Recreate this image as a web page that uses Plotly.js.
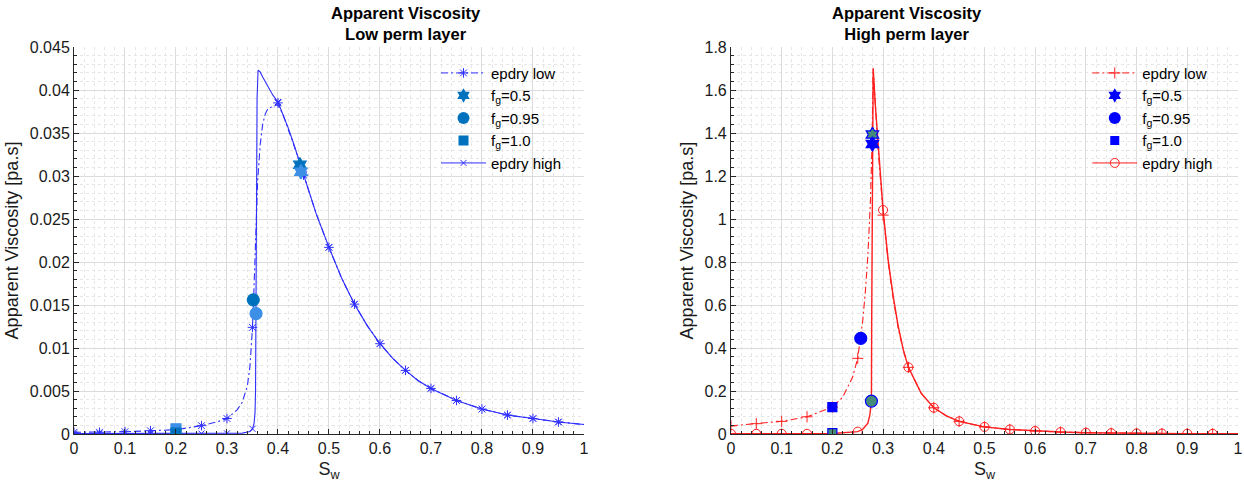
<!DOCTYPE html>
<html>
<head>
<meta charset="utf-8">
<script src="https://cdn.plot.ly/plotly-3.0.1.min.js"></script>
<style>
  html, body { margin: 0; padding: 0; background: #ffffff; }
  #chart { width: 1244px; height: 490px; }
</style>
</head>
<body>
<div id="chart"></div>
<script>
// Water saturations where the curve markers are placed
const swMarks = [0, 0.05, 0.1, 0.15, 0.2, 0.25, 0.3, 0.35, 0.4, 0.45,
                 0.5, 0.55, 0.6, 0.65, 0.7, 0.75, 0.8, 0.85, 0.9, 0.95];

// ---------- Low perm layer ----------
const lowLayerLowSw = [0, 0.05, 0.1, 0.15, 0.2, 0.25, 0.28, 0.3, 0.32, 0.33, 0.34, 0.345, 0.35, 0.353,
                       0.356, 0.36, 0.365, 0.37, 0.375, 0.38, 0.39, 0.4, 0.41, 0.42, 0.43, 0.44, 0.45,
                       0.475, 0.5, 0.525, 0.55, 0.575, 0.6, 0.625, 0.65, 0.675, 0.7, 0.75, 0.8, 0.85,
                       0.9, 0.95, 1];
const lowLayerLowMu = [0.0002, 0.0002, 0.00027, 0.00038, 0.0005, 0.00097, 0.0014, 0.0018, 0.0028, 0.0037,
                       0.0056, 0.0078, 0.0124, 0.0170, 0.0235, 0.0292, 0.0336, 0.0360, 0.0372, 0.0378,
                       0.0381, 0.0383, 0.0371, 0.0355, 0.0338, 0.0320, 0.0301, 0.0256, 0.0217, 0.0181,
                       0.0151, 0.0126, 0.0105, 0.0088, 0.0074, 0.0062, 0.0053, 0.0039, 0.0029, 0.0022,
                       0.0018, 0.0014, 0.0011];
const lowLayerHighSw = [0, 0.05, 0.1, 0.15, 0.2, 0.25, 0.3, 0.33, 0.345, 0.35, 0.353, 0.355, 0.356, 0.357,
                        0.358, 0.359, 0.361, 0.365, 0.37, 0.38, 0.39, 0.4, 0.41, 0.42, 0.43, 0.44, 0.45,
                        0.475, 0.5, 0.525, 0.55, 0.575, 0.6, 0.625, 0.65, 0.675, 0.7, 0.75, 0.8, 0.85,
                        0.9, 0.95, 1];
const lowLayerHighMu = [0.00005, 0.00005, 0.00005, 0.00005, 0.00005, 0.00005, 0.00008, 0.0001, 0.0003, 0.0006,
                        0.0012, 0.0025, 0.005, 0.015, 0.030, 0.039, 0.0423, 0.0421, 0.0415, 0.0404,
                        0.0394, 0.0386, 0.0372, 0.0356, 0.0339, 0.0321, 0.0302, 0.0256, 0.0217, 0.0181,
                        0.0151, 0.0126, 0.0105, 0.0088, 0.0074, 0.0062, 0.0053, 0.0039, 0.0029, 0.0022,
                        0.0018, 0.0014, 0.0011];
const lowLayerLowMarkMu = [0.0002, 0.0002, 0.00027, 0.00038, 0.0005, 0.00097, 0.0018, 0.0124, 0.0385, 0.0301,
                           0.0217, 0.0151, 0.0105, 0.0074, 0.0053, 0.0039, 0.0029, 0.0022, 0.0018, 0.0014];
const lowLayerHighMarkMu = [0.00005, 0.00005, 0.00005, 0.00005, 0.00005, 0.00005, 0.00008, 0.0006, 0.0386, 0.0302,
                            0.0217, 0.0151, 0.0105, 0.0074, 0.0053, 0.0039, 0.0029, 0.0022, 0.0018, 0.0014];
const lowLayerFg05Sw = [0.443, 0.445];
const lowLayerFg05Mu = [0.0313, 0.0305];
const lowLayerFg095Sw = [0.3516, 0.357];
const lowLayerFg095Mu = [0.0156, 0.0140];
const lowLayerFg10Sw = [0.2, 0.2];
const lowLayerFg10Mu = [0.0006, 0.0001];

// ---------- High perm layer ----------
const highLayerLowSw = [0, 0.05, 0.1, 0.15, 0.2, 0.22, 0.24, 0.25, 0.256, 0.26, 0.265, 0.27, 0.275, 0.278,
                        0.2805, 0.285, 0.29, 0.295, 0.3, 0.31, 0.32, 0.33, 0.34, 0.35, 0.375, 0.4, 0.425,
                        0.45, 0.5, 0.55, 0.6, 0.65, 0.7, 0.75, 0.8, 0.85, 0.9, 0.95, 1];
const highLayerLowMu = [0.038, 0.048, 0.059, 0.080, 0.125, 0.17, 0.265, 0.352, 0.445, 0.53, 0.66, 0.83, 1.08,
                        1.33, 1.70, 1.50, 1.33, 1.18, 1.03, 0.80, 0.63, 0.49, 0.39, 0.31, 0.19, 0.122,
                        0.084, 0.059, 0.033, 0.021, 0.014, 0.009, 0.006, 0.004, 0.003, 0.002, 0.0015,
                        0.001, 0.001];
const highLayerHighSw = [0, 0.05, 0.1, 0.15, 0.2, 0.25, 0.26, 0.27, 0.274, 0.276, 0.277, 0.2775, 0.278, 0.279,
                         0.2805, 0.285, 0.29, 0.295, 0.3, 0.31, 0.32, 0.33, 0.34, 0.35, 0.375, 0.4, 0.425,
                         0.45, 0.5, 0.55, 0.6, 0.65, 0.7, 0.75, 0.8, 0.85, 0.9, 0.95, 1];
const highLayerHighMu = [0.001, 0.001, 0.001, 0.001, 0.002, 0.011, 0.022, 0.05, 0.09, 0.13, 0.155, 0.5, 0.9,
                         1.3, 1.70, 1.52, 1.35, 1.19, 1.042, 0.81, 0.64, 0.50, 0.39, 0.31, 0.19, 0.122,
                         0.084, 0.059, 0.033, 0.021, 0.014, 0.009, 0.006, 0.004, 0.003, 0.002, 0.0015,
                         0.001, 0.001];
const highLayerLowMarkMu = [0.038, 0.048, 0.059, 0.080, 0.125, 0.352, 1.018, 0.31, 0.122, 0.059,
                            0.033, 0.021, 0.014, 0.009, 0.006, 0.004, 0.003, 0.002, 0.0015, 0.001];
const highLayerHighMarkMu = [0.001, 0.001, 0.001, 0.001, 0.002, 0.011, 1.042, 0.31, 0.122, 0.059,
                             0.033, 0.021, 0.014, 0.009, 0.006, 0.004, 0.003, 0.002, 0.0015, 0.001];
const highLayerFg05Sw = [0.279, 0.279];
const highLayerFg05Mu = [1.393, 1.349];
const highLayerFg095Sw = [0.256, 0.277];
const highLayerFg095Mu = [0.445, 0.153];
const highLayerFg10Sw = [0.2, 0.2];
const highLayerFg10Mu = [0.125, 0.004];

// Axis and legend text
const titleLine1 = 'Apparent Viscosity';
const leftTitleLine2 = 'Low perm layer';
const rightTitleLine2 = 'High perm layer';
const yTitle = 'Apparent Viscosity [pa.s]';
const xTitle = 'S<sub>w</sub>';
const legendNames = ['epdry low', 'f<sub>g</sub>=0.5', 'f<sub>g</sub>=0.95', 'f<sub>g</sub>=1.0', 'epdry high'];

const FONT = 'Liberation Sans, Arial, Helvetica, sans-serif';
const BLUE_LINE = '#2f2fff';
const RED_LINE = '#ff1f1f';
const MAT_BLUE = '#0072bd';
const MAT_BLUE_LIGHT = '#3d8fe6';
const PURE_BLUE = '#0000ff';
const TEAL = '#468b7a';
const DASHDOT = '7px,3px,2px,3px';

function curve(x, y, axes, color, dash, width) {
  return { x: x, y: y, xaxis: axes[0], yaxis: axes[1], type: 'scatter', mode: 'lines',
           line: { color: color, width: width, dash: dash }, showlegend: false, hoverinfo: 'skip' };
}
function marks(x, y, axes, color, symbol, size) {
  return { x: x, y: y, xaxis: axes[0], yaxis: axes[1], type: 'scatter', mode: 'markers',
           marker: { color: color, symbol: symbol, size: size, line: { color: color, width: 1 } },
           showlegend: false, hoverinfo: 'skip' };
}
function points(x, y, axes, fills, edges, symbol, size) {
  return { x: x, y: y, xaxis: axes[0], yaxis: axes[1], type: 'scatter', mode: 'markers',
           marker: { color: fills, symbol: symbol, size: size, line: { color: edges, width: 1.2 } },
           showlegend: false, hoverinfo: 'skip' };
}
// Legend-only entry (no drawn data)
function key(name, legend, rank, mode, line, marker) {
  return { x: [null], y: [null], type: 'scatter', mode: mode, name: name, legend: legend,
           legendrank: rank, line: line, marker: marker, hoverinfo: 'skip',
           xaxis: legend === 'legend' ? 'x' : 'x2', yaxis: legend === 'legend' ? 'y' : 'y2' };
}

const L = ['x', 'y'];
const R = ['x2', 'y2'];

const data = [
  // Low perm layer curves
  curve(lowLayerLowSw, lowLayerLowMu, L, BLUE_LINE, DASHDOT, 1.1),
  curve(lowLayerHighSw, lowLayerHighMu, L, BLUE_LINE, 'solid', 1.1),
  marks(swMarks, lowLayerLowMarkMu, L, BLUE_LINE, 'asterisk-open', 8),
  marks(swMarks, lowLayerHighMarkMu, L, BLUE_LINE, 'x-thin-open', 6),
  points(lowLayerFg10Sw, lowLayerFg10Mu, L, [MAT_BLUE_LIGHT, MAT_BLUE], [MAT_BLUE_LIGHT, MAT_BLUE], 'square', 10),
  points(lowLayerFg095Sw, lowLayerFg095Mu, L, [MAT_BLUE, MAT_BLUE_LIGHT], [MAT_BLUE, MAT_BLUE_LIGHT], 'circle', 12),
  points(lowLayerFg05Sw, lowLayerFg05Mu, L, [MAT_BLUE, MAT_BLUE_LIGHT], [MAT_BLUE, MAT_BLUE_LIGHT], 'hexagram', 11),

  // High perm layer curves
  curve(highLayerLowSw, highLayerLowMu, R, RED_LINE, DASHDOT, 1.1),
  curve(highLayerHighSw, highLayerHighMu, R, RED_LINE, 'solid', 1.4),
  marks(swMarks, highLayerLowMarkMu, R, RED_LINE, 'cross-thin-open', 8),
  marks(swMarks, highLayerHighMarkMu, R, RED_LINE, 'circle-open', 9),
  points(highLayerFg10Sw, highLayerFg10Mu, R, [PURE_BLUE, TEAL], [PURE_BLUE, PURE_BLUE], 'square', 9),
  points(highLayerFg095Sw, highLayerFg095Mu, R, [PURE_BLUE, TEAL], [PURE_BLUE, PURE_BLUE], 'circle', 12),
  points(highLayerFg05Sw, highLayerFg05Mu, R, [TEAL, PURE_BLUE], [PURE_BLUE, PURE_BLUE], 'hexagram', 11),

  // Legend entries, left
  key(legendNames[0], 'legend', 1, 'lines+markers', { color: BLUE_LINE, width: 1, dash: DASHDOT },
      { symbol: 'asterisk-open', size: 8, color: BLUE_LINE, line: { color: BLUE_LINE, width: 1 } }),
  key(legendNames[1], 'legend', 2, 'markers', {}, { symbol: 'hexagram', size: 11, color: MAT_BLUE }),
  key(legendNames[2], 'legend', 3, 'markers', {}, { symbol: 'circle', size: 12, color: MAT_BLUE }),
  key(legendNames[3], 'legend', 4, 'markers', {}, { symbol: 'square', size: 10, color: MAT_BLUE }),
  key(legendNames[4], 'legend', 5, 'lines+markers', { color: BLUE_LINE, width: 1 },
      { symbol: 'x-thin-open', size: 6, color: BLUE_LINE, line: { color: BLUE_LINE, width: 1 } }),

  // Legend entries, right
  key(legendNames[0], 'legend2', 1, 'lines+markers', { color: RED_LINE, width: 1, dash: DASHDOT },
      { symbol: 'cross-thin-open', size: 8, color: RED_LINE, line: { color: RED_LINE, width: 1 } }),
  key(legendNames[1], 'legend2', 2, 'markers', {}, { symbol: 'hexagram', size: 11, color: PURE_BLUE }),
  key(legendNames[2], 'legend2', 3, 'markers', {}, { symbol: 'circle', size: 12, color: PURE_BLUE }),
  key(legendNames[3], 'legend2', 4, 'markers', {}, { symbol: 'square', size: 9, color: PURE_BLUE }),
  key(legendNames[4], 'legend2', 5, 'lines+markers', { color: RED_LINE, width: 1 },
      { symbol: 'circle-open', size: 9, color: RED_LINE, line: { color: RED_LINE, width: 1 } })
];

function axisStyle(range, dtick, minorDtick, title, standoff) {
  return {
    range: range, dtick: dtick, tick0: 0, autorange: false,
    showline: true, linecolor: '#262626', linewidth: 1, mirror: false,
    ticks: 'inside', ticklen: 5, tickcolor: '#262626', tickwidth: 1,
    tickfont: { family: FONT, size: 16, color: '#1a1a1a' },
    showgrid: true, gridcolor: '#dcdcdc', gridwidth: 1, zeroline: false,
    minor: { dtick: minorDtick, tick0: 0, showgrid: true, gridcolor: '#e6e6e6', griddash: 'dot',
             gridwidth: 1, ticks: 'inside', ticklen: 3, tickcolor: '#262626' },
    title: { text: title, font: { family: FONT, size: 18, color: '#1a1a1a' }, standoff: standoff },
    automargin: false, fixedrange: true
  };
}

const legendBase = {
  xanchor: 'left', yanchor: 'top', bgcolor: 'rgba(0,0,0,0)', borderwidth: 0,
  font: { family: FONT, size: 15, color: '#000000' }, itemwidth: 45, tracegroupgap: 0
};

const layout = {
  width: 1244, height: 490,
  margin: { l: 74, r: 6, t: 47, b: 56 },
  paper_bgcolor: '#ffffff', plot_bgcolor: '#ffffff',
  font: { family: FONT, color: '#262626' },
  xaxis: Object.assign(axisStyle([0, 1], 0.1, 0.02, xTitle, 6), { domain: [0, 0.4381], anchor: 'y' }),
  yaxis: Object.assign(axisStyle([0, 0.045], 0.005, 0.001, yTitle, 6), { anchor: 'x' }),
  xaxis2: Object.assign(axisStyle([0, 1], 0.1, 0.02, xTitle, 6), { domain: [0.5644, 1], anchor: 'y2' }),
  yaxis2: Object.assign(axisStyle([0, 1.8], 0.2, 0.04, yTitle, 6), { anchor: 'x2' }),
  legend: Object.assign({}, legendBase, { x: 0.311, y: 0.975 }),
  legend2: Object.assign({}, legendBase, { x: 0.8705, y: 0.975 }),
  showlegend: true,
  annotations: [
    { xref: 'paper', yref: 'paper', x: 0.219, y: 1, yanchor: 'bottom', yshift: 2, showarrow: false,
      text: '<b>' + titleLine1 + '</b><br><b>' + leftTitleLine2 + '</b>',
      font: { family: FONT, size: 16.5, color: '#000000' } },
    { xref: 'paper', yref: 'paper', x: 0.782, y: 1, yanchor: 'bottom', yshift: 2, showarrow: false,
      text: '<b>' + titleLine1 + '</b><br><b>' + rightTitleLine2 + '</b>',
      font: { family: FONT, size: 16.5, color: '#000000' } }
  ]
};

Plotly.newPlot('chart', data, layout, { displayModeBar: false, staticPlot: true });
</script>
</body>
</html>
